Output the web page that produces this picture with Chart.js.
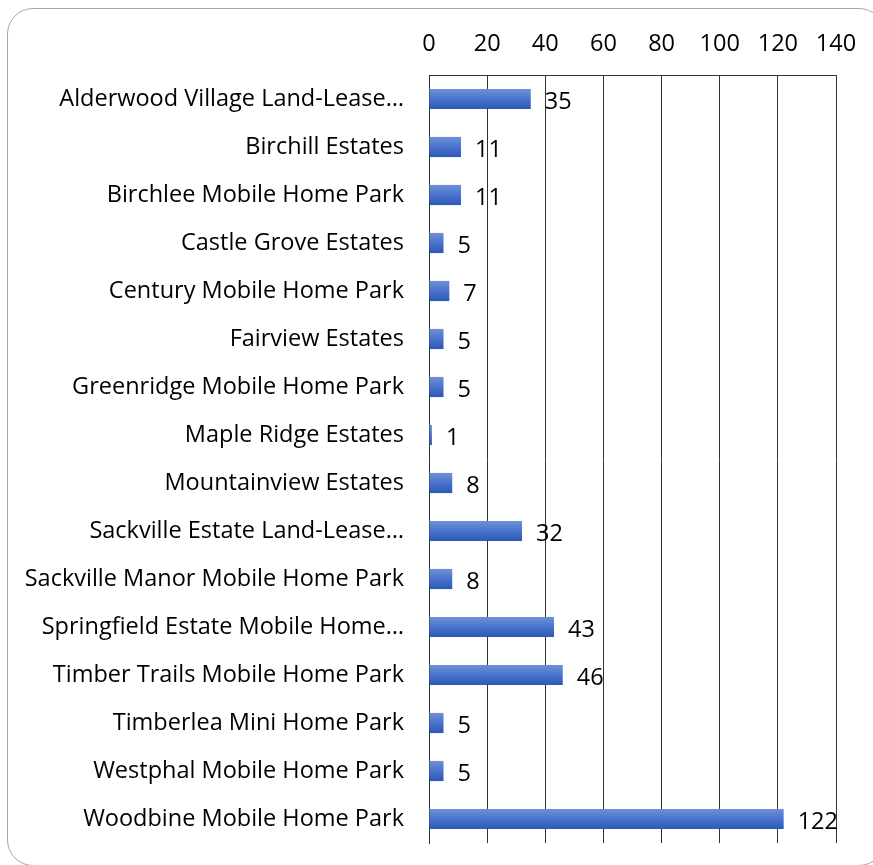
<!DOCTYPE html>
<html>
<head>
<meta charset="utf-8">
<script src="https://cdn.jsdelivr.net/npm/chart.js@4/dist/chart.umd.min.js"></script>
<style>
html,body{margin:0;padding:0;background:#fff;overflow:hidden;}
#wrap{position:absolute;left:0;top:0;width:873px;height:865px;}
#frame{position:absolute;left:7px;top:8px;width:878px;height:858px;border:1.5px solid #a6a6a6;border-radius:26px;box-sizing:border-box;}
canvas{position:absolute;left:0;top:0;}
</style>
</head>
<body>
<div id="wrap"><div id="frame"></div><canvas id="c" width="873" height="865"></canvas></div>
<script>
const categories = [
  "Alderwood Village Land-Lease…",
  "Birchill Estates",
  "Birchlee Mobile Home Park",
  "Castle Grove Estates",
  "Century Mobile Home Park",
  "Fairview Estates",
  "Greenridge Mobile Home Park",
  "Maple Ridge Estates",
  "Mountainview Estates",
  "Sackville Estate Land-Lease…",
  "Sackville Manor Mobile Home Park",
  "Springfield Estate Mobile Home…",
  "Timber Trails Mobile Home Park",
  "Timberlea Mini Home Park",
  "Westphal Mobile Home Park",
  "Woodbine Mobile Home Park"
];
const values = [35, 11, 11, 5, 7, 5, 5, 1, 8, 32, 8, 43, 46, 5, 5, 122];
const xTicks = [0, 20, 40, 60, 80, 100, 120, 140];

const FONT = "'Open Sans', Lato, sans-serif";
const FSIZE = 23.5;

const gradientBars = {
  id: 'gradientBars',
  beforeDatasetsDraw(chart) {
    const ctx = chart.ctx;
    const meta = chart.getDatasetMeta(0);
    meta.data.forEach(bar => {
      const h = bar.height;
      const g = ctx.createLinearGradient(0, bar.y - h/2, 0, bar.y + h/2);
      g.addColorStop(0, '#6f91d9');
      g.addColorStop(0.5, '#4a73cc');
      g.addColorStop(1, '#2b58b6');
      bar.options = Object.assign({}, bar.options, { backgroundColor: g });
    });
  }
};

const valueLabels = {
  id: 'valueLabels',
  afterDatasetsDraw(chart) {
    const ctx = chart.ctx;
    const meta = chart.getDatasetMeta(0);
    ctx.save();
    ctx.font = FSIZE + "px " + FONT;
    ctx.fillStyle = "#000";
    ctx.textAlign = "left";
    ctx.textBaseline = "middle";
    meta.data.forEach((bar, i) => {
      ctx.fillText(String(values[i]), bar.x + 14, bar.y + 3);
    });
    ctx.restore();
  }
};

new Chart(document.getElementById('c'), {
  type: 'bar',
  data: {
    labels: categories,
    datasets: [{
      data: values,
      backgroundColor: () => '#4a73cc',
      borderWidth: 0,
      barPercentage: 0.42,
      categoryPercentage: 1.0
    }]
  },
  plugins: [gradientBars, valueLabels],
  options: {
    indexAxis: 'y',
    responsive: false,
    animation: false,
    layout: { padding: { left: 0, right: 37, top: 20, bottom: 22 } },
    plugins: { legend: { display: false }, tooltip: { enabled: false } },
    scales: {
      x: {
        position: 'top',
        min: 0, max: 140,
        afterBuildTicks(s) { s.ticks = xTicks.map(v => ({ value: v })); },
        afterFit(s) { s.height = 55; s.paddingLeft = 0; s.paddingRight = 0; },
        grid: { color: '#333', lineWidth: 1, drawTicks: false },
        border: { display: true, color: '#333', width: 1 },
        ticks: { color: '#000', font: { family: FONT, size: FSIZE }, padding: 17 }
      },
      y: {
        afterFit(s) { s.width = 429; s.paddingTop = 0; s.paddingBottom = 0; },
        grid: { display: false, drawTicks: false },
        border: { display: true, color: '#333', width: 1 },
        ticks: { color: '#000', font: { family: FONT, size: FSIZE }, padding: 25, autoSkip: false }
      }
    }
  }
});
</script>
</body>
</html>
